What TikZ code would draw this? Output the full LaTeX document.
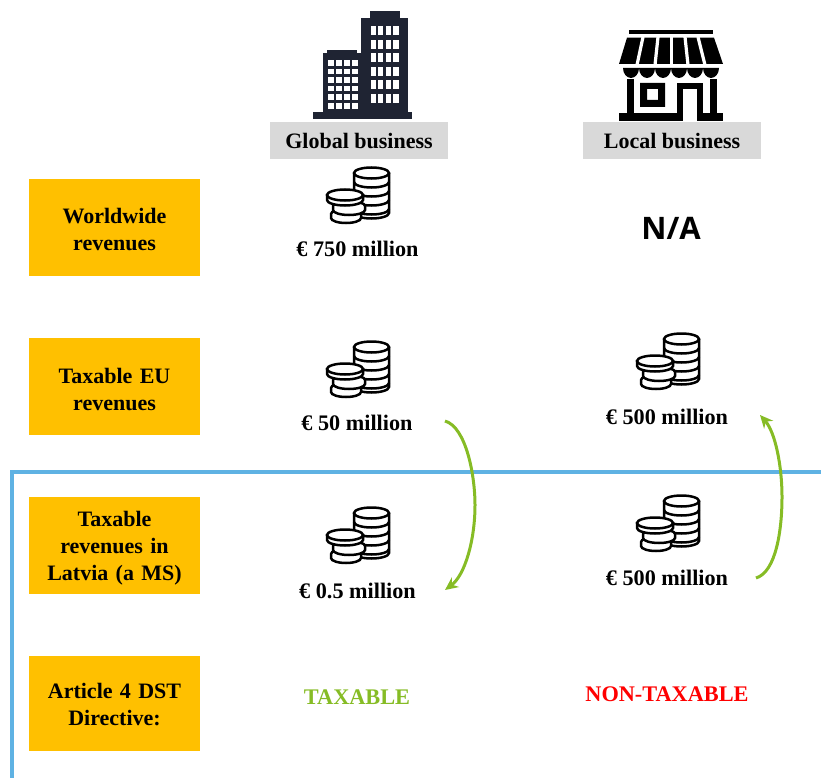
\documentclass[tikz,border=0pt]{standalone}
\usepackage{fontspec}
\setmainfont{Liberation Serif}
\newfontfamily\nafont{Open Sans}
\usetikzlibrary{arrows.meta}
\definecolor{boxorange}{HTML}{FFC000}
\definecolor{headgray}{HTML}{D9D9D9}
\definecolor{rulesky}{HTML}{5FB2E3}
\definecolor{arcgreen}{HTML}{86BC25}
\definecolor{bldg}{HTML}{1F2433}
\tikzset{
  x=1pt,y=-1pt,
  rowbox/.style={fill=boxorange,minimum width=171pt,align=center,font=\fontsize{22}{27}\selectfont\bfseries,text width=171pt,inner sep=0pt},
  headbox/.style={fill=headgray,minimum width=178pt,minimum height=37pt,font=\fontsize{22}{24}\selectfont\bfseries,inner sep=0pt},
  amount/.style={font=\fontsize{22.2}{24}\selectfont\bfseries,inner sep=0pt},
  verdict/.style={font=\fontsize{22.3}{24}\selectfont\bfseries,inner sep=0pt},
  arc/.style={draw=arcgreen,line width=3pt,-{Stealth[length=13pt,width=12pt]}},
  divider/.style={draw=rulesky,line width=4pt},
  coinline/.style={draw=black,line width=2.5pt,fill=white},
  coins/.pic={
    % tall stack
    \draw[coinline] (27,7) -- (27,47) arc[start angle=180,end angle=0,x radius=17.5,y radius=5.5] -- (62,7);
    \draw[coinline] (44.5,7) ellipse[x radius=17.5,y radius=5.5];
    \foreach \yy in {16,25,34,43}
      \draw[draw=black,line width=2.5pt] (27,\yy) arc[start angle=180,end angle=0,x radius=17.5,y radius=5.5];
    % lower coins
    \draw[coinline] (4,48) -- (4,52) arc[start angle=180,end angle=0,x radius=15,y radius=5] -- (34,48) arc[start angle=0,end angle=-180,x radius=15,y radius=5] -- cycle;
    \draw[coinline] (6,40) -- (6,44) arc[start angle=180,end angle=0,x radius=16,y radius=5] -- (38,40) arc[start angle=0,end angle=-180,x radius=16,y radius=5] -- cycle;
    \draw[coinline] (0,29) -- (0,34) arc[start angle=180,end angle=0,x radius=18,y radius=5.5] -- (36,29) -- cycle;
    \draw[coinline] (18,29) ellipse[x radius=18,y radius=5.5];
  },
}
\begin{document}
\begin{tikzpicture}
\useasboundingbox (0,0) rectangle (821,778);
% office towers
\fill[bldg] (313,112) rectangle (412,119.5);
\fill[bldg] (323,53) rectangle (361.5,113);
\fill[bldg] (327,50) rectangle (357,54);
\fill[bldg] (361,18) rectangle (408,113);
\fill[bldg] (370,11) rectangle (400,19);
\foreach \xx in {370.5,378,385.8,393.3}
  \foreach \yy in {26.5,40,53.5,67,80.5,94}
    \fill[white] (\xx,\yy) rectangle +(5.2,8.8);
\foreach \xx in {328.3,336.3,344.3,352.2}
  \foreach \yy in {60,68.6,77.2,85.8,94.4,103}
    \fill[white] (\xx,\yy) rectangle +(5.3,5.6);
% shop
\fill[black] (629,30) rectangle (713,34.3);
\fill[black] (627,37.7) -- (714,37.7) -- (723,64) -- (619,64) -- cycle;
\foreach \ta/\tb in {643/637,658/655,671.5/671.5,685/688,698/705}
  \draw[white,line width=3.2pt] (\ta,37) -- (\tb,65);
\foreach \sx in {623,639,655,671,687,703}
  \fill[black] (\sx,68) -- ++(16,0) arc[start angle=0,end angle=180,x radius=8,y radius=10] -- cycle;
\fill[black] (627,79) rectangle (633.5,114);
\fill[black] (710,79) rectangle (716.5,114);
\fill[black,even odd rule] (640,83) rectangle (665,107) (647,89) rectangle (658,100);
\fill[black] (677,83) rectangle (703,114);
\fill[white] (683,89) rectangle (697,122);
\fill[black] (619,113) rectangle (683,121);
\fill[black] (697,113) rectangle (723,121);
% header labels
\node[headbox,text height=16pt] (global) at (359,140.5) {Global business};
\node[headbox,text height=16pt] (local) at (672,140.5) {Local business};
% row labels
\node[rowbox,minimum height=97pt] (world) at (114.5,227.5) {\rule{0pt}{20pt}Worldwide\\revenues};
\node[rowbox,minimum height=97pt] (eu) at (114.5,386.5) {\rule{0pt}{21pt}Taxable EU\\revenues};
\node[rowbox,minimum height=97pt] (latvia) at (114.5,545.5) {\rule{0pt}{21pt}Taxable\\revenues in\\Latvia (a MS)};
\node[rowbox,minimum height=95pt] (art) at (114.5,703.5) {\rule{0pt}{17pt}Article 4 DST\\Directive:};
% coins
\pic at (327,166) {coins};
\pic at (327,340) {coins};
\pic at (327,506) {coins};
\pic at (637,332) {coins};
\pic at (637,494) {coins};
% amounts
\node[amount] (g750) at (357.5,248.7) {€ 750 million};
\node[font=\nafont\fontsize{31}{34}\selectfont\bfseries,inner sep=0pt] (na) at (671,228) {N/A};
\node[amount] (g50) at (357,423) {€ 50 million};
\node[amount] (l500a) at (667,416.7) {€ 500 million};
\node[amount] (g05) at (357.5,590.5) {€ 0.5 million};
\node[amount] (l500b) at (667,578) {€ 500 million};
\node[verdict,text=arcgreen] (tax) at (357,697.5) {TAXABLE};
\node[verdict,text=red] (nontax) at (667,694) {NON-TAXABLE};
% divider
\coordinate (ruleL) at (12,472);
\coordinate (ruleR) at (821,472);
\coordinate (ruleB) at (12,778);
\draw[divider] (ruleR) -- (ruleL) -- (ruleB);
% arcs
\coordinate (a1s) at (445,421);
\coordinate (a1e) at (445,590);
\coordinate (a2s) at (756,578);
\coordinate (a2e) at (760,415);
\draw[arc] (a1s) .. controls (466,427) and (475,475) .. (475,505) .. controls (475,540) and (465,575) .. (a1e);
\draw[arc] (a2s) .. controls (776,572) and (782,530) .. (782,497) .. controls (782,465) and (775,432) .. (a2e);
\end{tikzpicture}
\end{document}
